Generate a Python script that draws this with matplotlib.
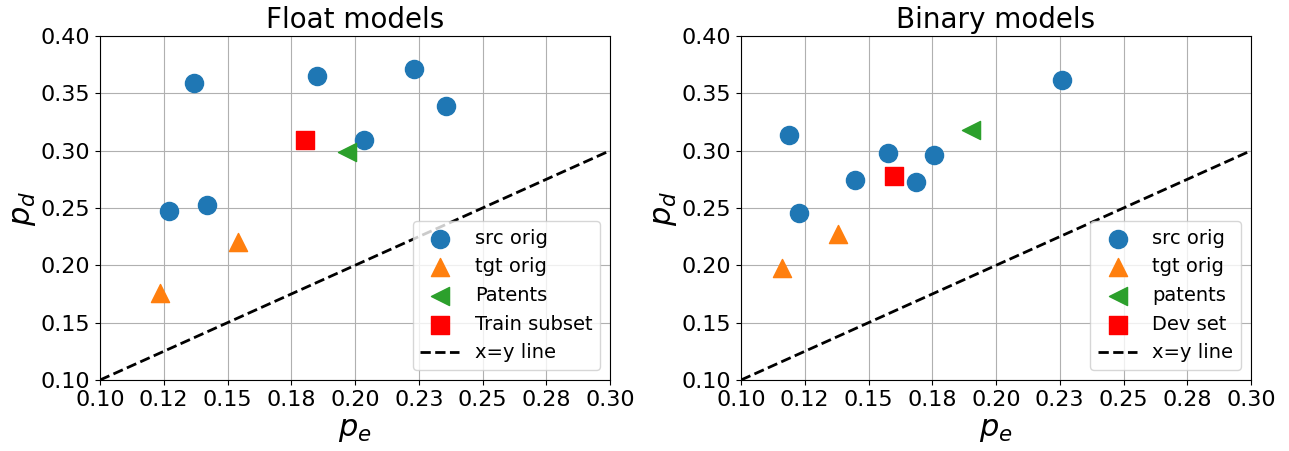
import matplotlib
matplotlib.use("Agg")
import matplotlib.pyplot as plt
from matplotlib.ticker import FormatStrFormatter, MultipleLocator

# ── Data: float models ─────────────────────────────────────────────────────
float_src_pe = [0.137, 0.185, 0.223, 0.2355, 0.2035, 0.127, 0.142]
float_src_pd = [0.359, 0.365, 0.371, 0.339, 0.309, 0.247, 0.253]
float_tgt_pe = [0.154, 0.1235]
float_tgt_pd = [0.220, 0.176]
float_pat_pe = [0.197]
float_pat_pd = [0.2985]
float_sub_pe = [0.1805]
float_sub_pd = [0.309]

# ── Data: binary models ────────────────────────────────────────────────────
bin_src_pe = [0.226, 0.119, 0.1577, 0.1757, 0.1448, 0.1687, 0.1229]
bin_src_pd = [0.3615, 0.3135, 0.298, 0.2965, 0.2745, 0.273, 0.246]
bin_tgt_pe = [0.138, 0.116]
bin_tgt_pd = [0.227, 0.198]
bin_pat_pe = [0.190]
bin_pat_pd = [0.318]
bin_dev_pe = [0.160]
bin_dev_pd = [0.278]

diag = [0.1, 0.3]

fig = plt.figure(figsize=(12.89, 4.51), dpi=100)
ax1 = fig.add_axes([100 / 1289, 1 - 380 / 451, 510 / 1289, 344 / 451])
ax2 = fig.add_axes([741 / 1289, 1 - 380 / 451, 510 / 1289, 344 / 451])

MS = 170


def draw(ax, title, src, tgt, pat, extra, pat_label, extra_label):
    ax.scatter(*src, s=MS, marker="o", color="#1f77b4", label="src orig", zorder=3)
    ax.scatter(*tgt, s=MS, marker="^", color="#ff7f0e", label="tgt orig", zorder=3)
    ax.scatter(*pat, s=MS, marker="<", color="#2ca02c", label=pat_label, zorder=3)
    ax.scatter(*extra, s=MS, marker="s", color="red", label=extra_label, zorder=3)
    ax.plot(diag, diag, "k--", linewidth=2, label="x=y line")
    ax.set_xlim(0.1, 0.3)
    ax.set_ylim(0.1, 0.4)
    ax.xaxis.set_major_locator(MultipleLocator(0.025))
    ax.yaxis.set_major_locator(MultipleLocator(0.05))
    ax.xaxis.set_major_formatter(FormatStrFormatter("%.2f"))
    ax.yaxis.set_major_formatter(FormatStrFormatter("%.2f"))
    ax.tick_params(labelsize=16)
    ax.grid(True)
    ax.set_axisbelow(True)
    ax.set_title(title, fontsize=20)
    ax.set_xlabel(r"$p_e$", fontsize=22)
    ax.set_ylabel(r"$p_d$", fontsize=22, labelpad=2)
    ax.legend(loc="lower right", fontsize=14)


draw(ax1, "Float models",
     (float_src_pe, float_src_pd), (float_tgt_pe, float_tgt_pd),
     (float_pat_pe, float_pat_pd), (float_sub_pe, float_sub_pd),
     "Patents", "Train subset")
draw(ax2, "Binary models",
     (bin_src_pe, bin_src_pd), (bin_tgt_pe, bin_tgt_pd),
     (bin_pat_pe, bin_pat_pd), (bin_dev_pe, bin_dev_pd),
     "patents", "Dev set")

fig.savefig("out.png", dpi=100)
